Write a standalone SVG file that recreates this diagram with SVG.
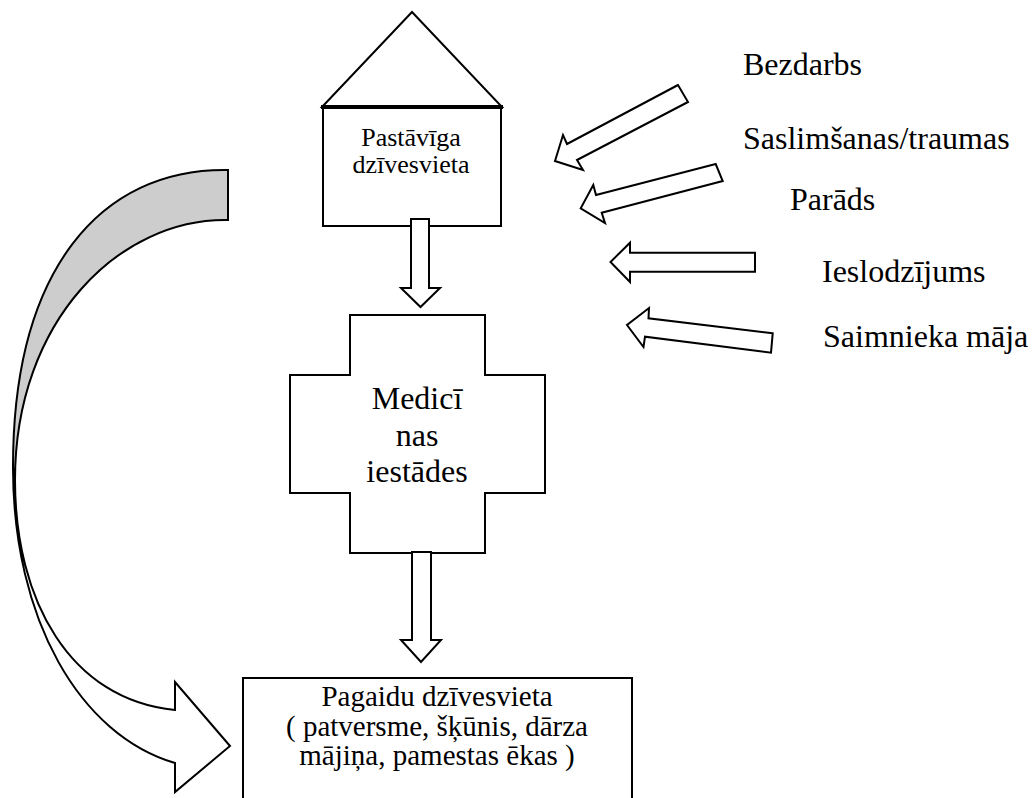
<svg xmlns="http://www.w3.org/2000/svg" width="1032" height="798" viewBox="0 0 1032 798">
<style>
.shape{fill:#ffffff;stroke:#000000;stroke-width:2;stroke-linejoin:miter}
.back{fill:#cdcdcd;stroke:#000000;stroke-width:2}
.t{font-family:"Liberation Serif","Times New Roman",serif;fill:#000000}
.lbl{font-size:32px}
.mid{text-anchor:middle}
</style>
<rect width="1032" height="798" fill="#ffffff"/>
<g id="node-house">
<polygon class="shape" points="322,107 412,12 502,107"/>
<rect class="shape" x="323" y="107" width="178" height="119"/>
<line x1="321" y1="107" x2="503" y2="107" stroke="#000" stroke-width="4"/>
<text class="t mid" x="411" y="146" font-size="26">Pastāvīga</text>
<text class="t mid" x="411" y="173" font-size="26">dzīvesvieta</text>
</g>
<g id="node-medical">
<polygon class="shape" points="350,315 485,315 485,375 545,375 545,493 485,493 485,553 350,553 350,493 290,493 290,375 350,375"/>
<text class="t mid lbl" x="417" y="409">Medicī</text>
<text class="t mid lbl" x="417" y="446">nas</text>
<text class="t mid lbl" x="417" y="482">iestādes</text>
</g>
<g id="node-temporary">
<rect class="shape" x="243" y="678" width="389" height="130"/>
<text class="t mid" x="437" y="706" font-size="29">Pagaidu dzīvesvieta</text>
<text class="t mid" x="437" y="736" font-size="29">( patversme, šķūnis, dārza</text>
<text class="t mid" x="437" y="765" font-size="29">mājiņa, pamestas ēkas )</text>
</g>
<g id="node-labels">
<text id="lbl-bezdarbs" class="t lbl" x="743" y="75">Bezdarbs</text>
<text id="lbl-saslimsanas" class="t lbl" x="743" y="149">Saslimšanas/traumas</text>
<text id="lbl-parads" class="t lbl" x="790" y="210">Parāds</text>
<text id="lbl-ieslodzijums" class="t lbl" x="822" y="282">Ieslodzījums</text>
<text id="lbl-saimnieka" class="t lbl" x="823" y="347">Saimnieka māja</text>
</g>
<g id="connectors">
<polygon class="shape" points="411,219 429,219 429,288 440,288 420.5,307 401,288 411,288"/>
<polygon class="shape" points="412,552 431,552 431,640 441,640 421,662 401,640 412,640"/>
<polygon class="shape" points="678,85 567,144 563,135 555,161 583,170 577,160 688,102"/>
<polygon class="shape" points="715.7,164 596,195 593.3,185 580.7,208.3 605,223 601.7,212.7 722.7,181"/>
<polygon class="shape" points="755,252.7 630,252.7 630,242.7 610.5,262 630,282 630,271.7 755,271.7"/>
<polygon class="shape" points="772.7,333.3 648.5,318.3 649,308 627,325 643.5,347 645,336.7 771,352.7"/>
<path class="back" d="M228,170 C100,168 13,270 13,467 L15,480 C15,320 120,218 228,220 Z"/>
<path class="shape" d="M13,467 C13,620 80,735 175,763 L175,792 L230,746 L175,682 L175,710 C70,700 15,600 15,480 Z"/>
</g>
</svg>
